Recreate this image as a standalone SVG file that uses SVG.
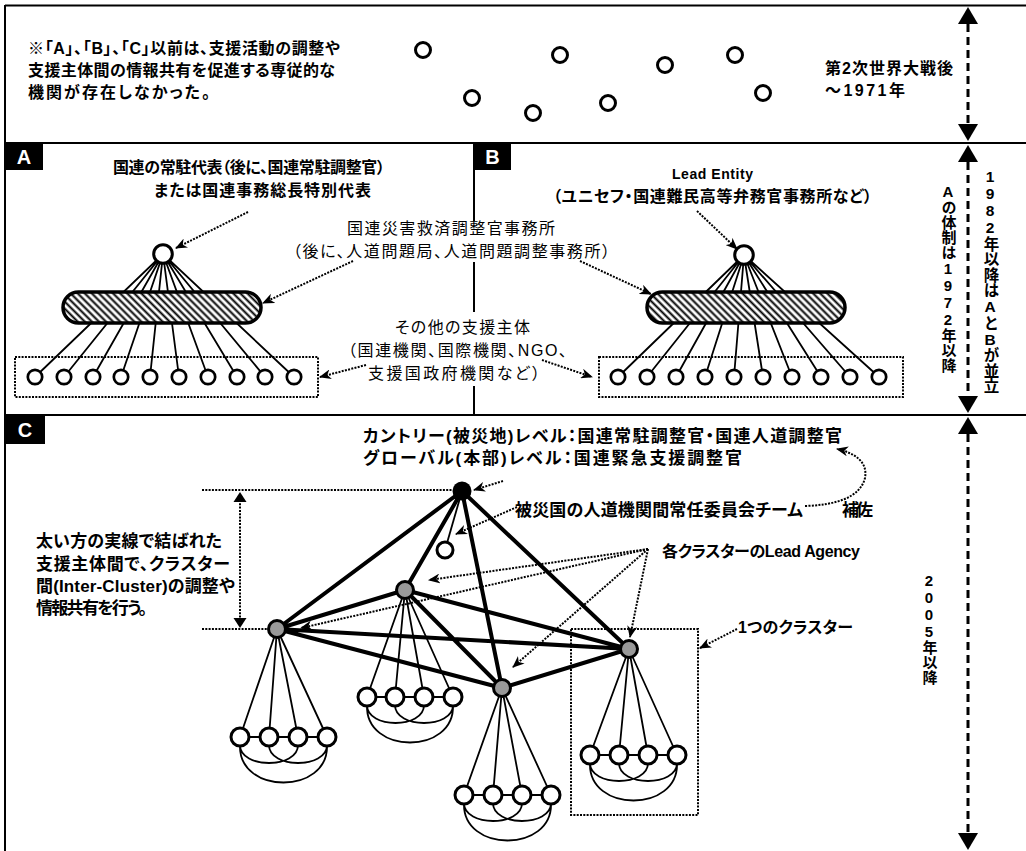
<svg xmlns="http://www.w3.org/2000/svg" width="1026" height="851" viewBox="0 0 1026 851">
<defs>
<pattern id="hatch" patternUnits="userSpaceOnUse" width="5" height="5" patternTransform="rotate(-45)">
<rect width="5" height="5" fill="#fff"/>
<line x1="2.5" y1="-1" x2="2.5" y2="6" stroke="#000" stroke-width="2"/>
</pattern>
<marker id="ah" viewBox="0 0 12 10" markerWidth="12" markerHeight="10" refX="11" refY="5" orient="auto" markerUnits="userSpaceOnUse">
<path d="M0,0 L12,5 L0,10 L3.5,5 z" fill="#000"/>
</marker>
<style>
.frame{stroke:#000;stroke-width:2;fill:none}
.dot{stroke:#000;stroke-width:2;stroke-dasharray:2 1.3;fill:none}
.arr{marker-end:url(#ah)}
.dash{stroke:#000;stroke-width:3;stroke-dasharray:8 5;fill:none}
.thick{stroke:#000;stroke-width:4;stroke-linecap:round;fill:none}
.thin{stroke:#000;stroke-width:1.8;fill:none}
.wc{fill:#fff;stroke:#000;stroke-width:3}
.sc{fill:#fff;stroke:#000;stroke-width:2.7}
.gc{fill:#999;stroke:#000;stroke-width:3}
.pill{fill:url(#hatch);stroke:#000;stroke-width:3.5}
.t{font-family:"Liberation Sans","Noto Sans CJK JP",sans-serif;font-feature-settings:"palt";fill:#000}
.b{font-weight:700}
.lbl{font-family:"Liberation Sans",sans-serif;font-weight:700;fill:#fff;font-size:20px}
.v{font-family:"Liberation Sans","Noto Sans CJK JP",sans-serif;font-weight:700;writing-mode:vertical-rl;text-orientation:upright;fill:#000}
</style>
</defs>
<rect width="1026" height="851" fill="#fff"/>

<g id="frame">
<line class="frame" x1="5" y1="5.5" x2="1026" y2="5.5"/>
<line class="frame" x1="5" y1="5" x2="5" y2="851"/>
<line class="frame" x1="5" y1="143" x2="1026" y2="143"/>
<line class="frame" x1="5" y1="415" x2="1026" y2="415"/>
<line class="frame" x1="474" y1="143" x2="474" y2="415"/>
</g>

<g id="timeline">
<line class="dash" x1="968" y1="24" x2="968" y2="124"/>
<polygon points="968,7 958,24 978,24"/>
<polygon points="968,141 958,124 978,124"/>
<line class="dash" x1="968" y1="162" x2="968" y2="396"/>
<polygon points="968,145 958,162 978,162"/>
<polygon points="968,413 958,396 978,396"/>
<line class="dash" x1="968" y1="434" x2="968" y2="833"/>
<polygon points="968,417 958,434 978,434"/>
<polygon points="968,850 958,833 978,833"/>
</g>

<g id="era0">
<text class="t b" font-size="16" x="28" y="54" textLength="312" lengthAdjust="spacing">※「A」、「B」、「C」以前は、支援活動の調整や</text>
<text class="t b" font-size="16" x="28" y="76" textLength="307" lengthAdjust="spacing">支援主体間の情報共有を促進する専従的な</text>
<text class="t b" font-size="16" x="28" y="98" textLength="182" lengthAdjust="spacing">機関が存在しなかった。</text>
<circle class="wc" cx="423" cy="50" r="7.5"/>
<circle class="wc" cx="472" cy="98" r="7.5"/>
<circle class="wc" cx="533" cy="113" r="7.5"/>
<circle class="wc" cx="560" cy="55" r="7.5"/>
<circle class="wc" cx="608" cy="103" r="7.5"/>
<circle class="wc" cx="665" cy="65" r="7.5"/>
<circle class="wc" cx="735" cy="55" r="7.5"/>
<circle class="wc" cx="763" cy="93" r="7.5"/>
<text class="t b" font-size="16" x="825" y="74" textLength="128" lengthAdjust="spacing">第2次世界大戦後</text>
<text class="t b" font-size="16" x="825" y="96" textLength="80" lengthAdjust="spacing">～1971年</text>
</g>

<g id="labels-ab">
<rect x="290" y="221" width="322" height="41" fill="#fff"/>
<rect x="345" y="312" width="225" height="74" fill="#fff"/>
<text class="t" font-size="16" x="347" y="234" textLength="208" lengthAdjust="spacing">国連災害救済調整官事務所</text>
<text class="t" font-size="16" x="293" y="257" textLength="317" lengthAdjust="spacing">（後に、人道問題局、人道問題調整事務所）</text>
<text class="t" font-size="16" x="395" y="333" textLength="135" lengthAdjust="spacing">その他の支援主体</text>
<text class="t" font-size="16" x="348" y="356" textLength="219" lengthAdjust="spacing">（国連機関、国際機関、NGO、</text>
<text class="t" font-size="16" x="368" y="379" textLength="172" lengthAdjust="spacing">支援国政府機関など）</text>
</g>

<g id="system-a">
<rect x="5" y="143" width="38" height="27" fill="#000"/>
<text class="lbl" x="24" y="164" text-anchor="middle">A</text>
<text class="t b" font-size="16" x="113" y="173" textLength="272" lengthAdjust="spacing">国連の常駐代表（後に、国連常駐調整官）</text>
<text class="t b" font-size="16" x="154" y="196" textLength="217" lengthAdjust="spacing">または国連事務総長特別代表</text>
<path class="thin" d="M163,254 L35,377 M163,254 L64,377 M163,254 L93,377 M163,254 L121,377 M163,254 L150,377 M163,254 L179,377 M163,254 L208,377 M163,254 L237,377 M163,254 L265,377 M163,254 L294,377"/>
<rect class="pill" x="63" y="292" width="198" height="31" rx="15.5"/>
<circle class="wc" cx="163" cy="254" r="9.3" stroke-width="2.6"/>
<rect class="dot" x="15" y="357" width="303" height="40"/>
<g>
<circle class="sc" cx="35" cy="377" r="7.2"/><circle class="sc" cx="64" cy="377" r="7.2"/><circle class="sc" cx="93" cy="377" r="7.2"/><circle class="sc" cx="121" cy="377" r="7.2"/><circle class="sc" cx="150" cy="377" r="7.2"/><circle class="sc" cx="179" cy="377" r="7.2"/><circle class="sc" cx="208" cy="377" r="7.2"/><circle class="sc" cx="237" cy="377" r="7.2"/><circle class="sc" cx="265" cy="377" r="7.2"/><circle class="sc" cx="294" cy="377" r="7.2"/>
</g>
</g>

<g id="system-b">
<rect x="474" y="143" width="37" height="27" fill="#000"/>
<text class="lbl" x="492.5" y="164" text-anchor="middle">B</text>
<text class="t b" font-size="14" x="672" y="179" textLength="81" lengthAdjust="spacing">Lead Entity</text>
<text class="t b" font-size="16" x="553" y="202" textLength="319" lengthAdjust="spacing">（ユニセフ・国連難民高等弁務官事務所など）</text>
<path class="thin" d="M744,255 L618,377 M744,255 L647,377 M744,255 L676,377 M744,255 L705,377 M744,255 L734,377 M744,255 L763,377 M744,255 L792,377 M744,255 L821,377 M744,255 L850,377 M744,255 L879,377"/>
<rect class="pill" x="647" y="292" width="198" height="31" rx="15.5"/>
<circle class="wc" cx="744" cy="255" r="9.3" stroke-width="2.6"/>
<rect class="dot" x="599" y="357" width="304" height="40"/>
<g>
<circle class="sc" cx="618" cy="377" r="7.2"/><circle class="sc" cx="647" cy="377" r="7.2"/><circle class="sc" cx="676" cy="377" r="7.2"/><circle class="sc" cx="705" cy="377" r="7.2"/><circle class="sc" cx="734" cy="377" r="7.2"/><circle class="sc" cx="763" cy="377" r="7.2"/><circle class="sc" cx="792" cy="377" r="7.2"/><circle class="sc" cx="821" cy="377" r="7.2"/><circle class="sc" cx="850" cy="377" r="7.2"/><circle class="sc" cx="879" cy="377" r="7.2"/>
</g>
</g>

<g id="vertical-labels">
<text class="v" font-size="15" x="948" y="183">Aの体制は1972年以降</text>
<text class="v" font-size="15.5" x="990" y="168">1982年以降はAとBが並立</text>
<text class="v" font-size="15" x="929" y="572">2005年以降</text>
</g>

<g id="connectors">
<path class="dot arr" d="M248,212 L176,248"/>
<path class="dot arr" d="M697,211 L737,249"/>
<path class="dot arr" d="M353,261 L263,303"/>
<path class="dot arr" d="M580,261 L651,294"/>
<path class="dot arr" d="M366,365 L320,377"/>
<path class="dot arr" d="M542,360 L592,377"/>
</g>

<g id="system-c">
<rect x="5" y="415" width="40" height="29" fill="#000"/>
<text class="lbl" x="25" y="437" text-anchor="middle">C</text>
<text class="t b" font-size="17" x="363" y="442" textLength="479" lengthAdjust="spacing">カントリー(被災地)レベル：国連常駐調整官・国連人道調整官</text>
<text class="t b" font-size="17" x="363" y="464" textLength="379" lengthAdjust="spacing">グローバル(本部)レベル：国連緊急支援調整官</text>
<text class="t b" font-size="17" x="515" y="516" textLength="288" lengthAdjust="spacing">被災国の人道機関間常任委員会チーム</text>
<text class="t b" font-size="17" x="842" y="516" textLength="31" lengthAdjust="spacing">補佐</text>
<text class="t b" font-size="16" x="662" y="557" textLength="198" lengthAdjust="spacing">各クラスターのLead Agency</text>
<text class="t b" font-size="16" x="738" y="633" textLength="115" lengthAdjust="spacing">1つのクラスター</text>
<text class="t b" font-size="17" x="36" y="547" textLength="186" lengthAdjust="spacing">太い方の実線で結ばれた</text>
<text class="t b" font-size="17" x="36" y="570" textLength="194" lengthAdjust="spacing">支援主体間で、クラスター</text>
<text class="t b" font-size="17" x="36" y="592" textLength="199" lengthAdjust="spacing">間(Inter-Cluster)の調整や</text>
<text class="t b" font-size="17" x="36" y="614" textLength="111" lengthAdjust="spacing">情報共有を行う。</text>

<g id="dimension">
<line class="dot" x1="202" y1="490" x2="452" y2="490"/>
<line class="dot" x1="202" y1="629" x2="267" y2="629"/>
<line class="dot" x1="240" y1="500" x2="240" y2="619"/>
<polygon points="240,492 233.5,502 246.5,502"/>
<polygon points="240,628 233.5,618 246.5,618"/>
</g>

<g id="inter-cluster-links">
<path class="thick" d="M462,491 L277,629 M462,491 L405,590 M462,491 L502,688 M462,491 L629,649 M277,629 L405,590 M277,629 L502,688 M277,629 L629,649 M405,590 L502,688 M405,590 L629,649 M502,688 L629,649"/>
</g>

<g id="cluster-1">
<path class="thin" d="M277,629 L240,737 M277,629 L269,737 M277,629 L298,737 M277,629 L327,737 M240,737 L327,737 M240,745 C240,769 298,769 298,745 M269,745 C269,769 327,769 327,745 M240,745 C238,795 329,795 327,745"/>
<circle class="wc" cx="240" cy="737" r="9"/><circle class="wc" cx="269" cy="737" r="9"/><circle class="wc" cx="298" cy="737" r="9"/><circle class="wc" cx="327" cy="737" r="9"/>
<circle class="gc" cx="277" cy="629" r="8.5"/>
</g>
<g id="cluster-2">
<path class="thin" d="M405,590 L367,697 M405,590 L395,697 M405,590 L424,697 M405,590 L453,697 M367,697 L453,697 M367,705 C367,729 424,729 424,705 M395,705 C395,729 453,729 453,705 M367,705 C365,755 455,755 453,705"/>
<circle class="wc" cx="367" cy="697" r="9"/><circle class="wc" cx="395" cy="697" r="9"/><circle class="wc" cx="424" cy="697" r="9"/><circle class="wc" cx="453" cy="697" r="9"/>
<circle class="gc" cx="405" cy="590" r="8.5"/>
</g>
<g id="cluster-3">
<path class="thin" d="M502,688 L464,795 M502,688 L493,795 M502,688 L522,795 M502,688 L551,795 M464,795 L551,795 M464,803 C464,827 522,827 522,803 M493,803 C493,827 551,827 551,803 M464,803 C462,853 553,853 551,803"/>
<circle class="wc" cx="464" cy="795" r="9"/><circle class="wc" cx="493" cy="795" r="9"/><circle class="wc" cx="522" cy="795" r="9"/><circle class="wc" cx="551" cy="795" r="9"/>
<circle class="gc" cx="502" cy="688" r="8.5"/>
</g>
<g id="cluster-4">
<rect class="dot" x="571" y="629" width="127" height="186"/>
<path class="thin" d="M629,649 L590,755 M629,649 L619,755 M629,649 L648,755 M629,649 L677,755 M590,755 L677,755 M590,763 C590,787 648,787 648,763 M619,763 C619,787 677,787 677,763 M590,763 C588,813 679,813 677,763"/>
<circle class="wc" cx="590" cy="755" r="9"/><circle class="wc" cx="619" cy="755" r="9"/><circle class="wc" cx="648" cy="755" r="9"/><circle class="wc" cx="677" cy="755" r="9"/>
<circle class="gc" cx="629" cy="649" r="8.5"/>
</g>

<g id="coordinator">
<line class="thin" x1="462" y1="491" x2="445" y2="550"/>
<circle cx="462" cy="491" r="9.5" fill="#000"/>
<circle class="wc" cx="445" cy="550" r="8" stroke-width="2.6"/>
</g>

<g id="c-connectors">
<path class="dot arr" d="M503,481 L474,490"/>
<path class="dot arr" d="M517,507 L456,534"/>
<path class="dot arr" d="M805,506 C835,505 860,498 865,478 C868,462 855,453 837,449"/>
<path class="dot arr" d="M648,549 L429,580"/>
<path class="dot arr" d="M648,549 L301,628"/>
<path class="dot arr" d="M648,549 L513,667"/>
<path class="dot arr" d="M648,549 L630,637"/>
<path class="dot arr" d="M737,629 L700,648"/>
</g>
</g>
</svg>
